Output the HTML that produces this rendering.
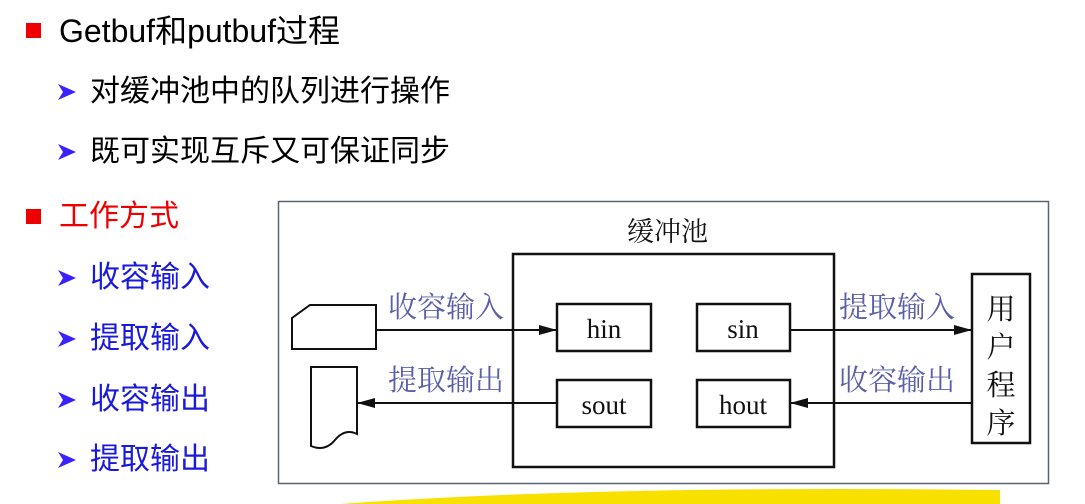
<!DOCTYPE html>
<html><head><meta charset="utf-8"><style>
body{margin:0;width:1085px;height:504px;background:#fff;overflow:hidden;position:relative;font-family:"Liberation Sans","Noto Sans CJK SC",sans-serif}
.t{position:absolute;white-space:nowrap;font-size:30px;line-height:1;color:#000}
.sq{position:absolute;width:15px;height:15px;background:#e00}
</style></head><body>
<div class="sq" style="left:26px;top:23px"></div>
<div class="t" style="left:59px;top:15px;font-size:32px">Getbuf和putbuf过程</div>
<div class="t" style="left:90px;top:77px">对缓冲池中的队列进行操作</div>
<div class="t" style="left:90px;top:137px">既可实现互斥又可保证同步</div>
<div class="sq" style="left:26px;top:209px"></div>
<div class="t" style="left:59px;top:202px;color:#e00">工作方式</div>
<div class="t" style="left:90px;top:263px;color:#1a1adb">收容输入</div>
<div class="t" style="left:90px;top:324px;color:#1a1adb">提取输入</div>
<div class="t" style="left:90px;top:385px;color:#1a1adb">收容输出</div>
<div class="t" style="left:90px;top:445px;color:#1a1adb">提取输出</div>
<svg width="1085" height="504" style="position:absolute;left:0;top:0">
<defs><marker id="a" markerWidth="18" markerHeight="10" refX="18" refY="5" orient="auto" markerUnits="userSpaceOnUse"><path d="M0,0L18,5L0,10z" fill="#111"/></marker>
<path id="ch" d="M0,0 L18,8 L0,16 L5,8 Z" fill="#3a22ff"/></defs>
<use href="#ch" x="58" y="84"/>
<use href="#ch" x="58" y="144"/>
<use href="#ch" x="58" y="270"/>
<use href="#ch" x="58" y="331"/>
<use href="#ch" x="58" y="392"/>
<use href="#ch" x="58" y="452"/>
<path d="M340,504 Q600,485 1000,490 L1000,504Z" fill="#f8e000"/>
<rect x="278.5" y="201.5" width="770" height="282" fill="none" stroke="#5a6470" stroke-width="1.5"/>
<g stroke="#111" stroke-width="2.5" fill="none">
<rect x="513" y="254" width="321" height="213"/>
<rect x="557" y="304" width="94" height="47"/>
<rect x="557" y="380" width="94" height="47"/>
<rect x="697" y="304" width="93" height="47"/>
<rect x="697" y="380" width="93" height="47"/>
<rect x="972" y="274" width="58" height="169"/>
</g>
<g stroke="#111" stroke-width="2" fill="none">
<path d="M292,349 L292,318 L310,305 L376,305 L376,349 Z"/>
<path d="M311,367 L357,367 L357,434 Q345,428 335,440 Q325,452 311,446 Z"/>
<line x1="376" y1="330" x2="557" y2="330" marker-end="url(#a)"/>
<line x1="557" y1="403" x2="357" y2="403" marker-end="url(#a)"/>
<line x1="790" y1="330" x2="972" y2="330" marker-end="url(#a)"/>
<line x1="972" y1="403" x2="790" y2="403" marker-end="url(#a)"/>
</g>
<g font-family="Liberation Serif,Noto Serif CJK SC,serif" font-size="27" fill="#111">
<text x="627" y="241">缓冲池</text>
<text x="604" y="338" text-anchor="middle">hin</text>
<text x="604" y="414" text-anchor="middle">sout</text>
<text x="743" y="338" text-anchor="middle">sin</text>
<text x="743" y="414" text-anchor="middle">hout</text>
<text x="1001" y="319" text-anchor="middle" font-size="29">用</text>
<text x="1001" y="357" text-anchor="middle" font-size="29">户</text>
<text x="1001" y="395" text-anchor="middle" font-size="29">程</text>
<text x="1001" y="433" text-anchor="middle" font-size="29">序</text>
</g>
<g font-family="Liberation Serif,Noto Serif CJK SC,serif" font-size="29" fill="#5a5fa8">
<text x="388" y="317">收容输入</text>
<text x="388" y="390">提取输出</text>
<text x="839" y="317">提取输入</text>
<text x="839" y="390">收容输出</text>
</g>
</svg>
</body></html>
